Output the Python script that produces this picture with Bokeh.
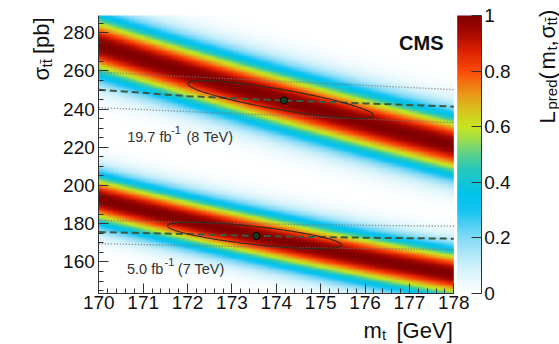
import numpy as np
from bokeh.plotting import figure
from bokeh.models import (Range1d, LinearColorMapper, FixedTicker, LinearAxis,
                          SingleIntervalTicker, Label)
from bokeh.embed import file_html
from bokeh.resources import INLINE

# ---------------- data ----------------
mt_grid = [170, 172, 174, 176, 178]

# predicted likelihood bands (ridge position and gaussian width, pb)
pred8_center = [273.5, 259.2, 245.7, 233.0, 221.0]
pred8_width = 11.0
pred7_center = [192.8, 181.6, 171.4, 162.0, 153.5]
pred7_width = 9.0

# measured cross sections (dashed) with +-1 sigma (dotted)
meas8 = [250.2, 246.8, 244.7, 243.0, 241.3]
meas8_hi = [259.4, 257.0, 254.7, 252.4, 250.2]
meas8_lo = [240.8, 238.7, 236.8, 234.8, 232.9]
meas7 = [175.7, 174.6, 173.4, 172.7, 172.2]
meas7_hi = [181.8, 180.8, 179.8, 179.2, 178.7]
meas7_lo = [169.6, 168.6, 167.7, 167.0, 166.5]

# best-fit points
best_mt = [174.17, 173.55]
best_xs = [244.6, 173.6]

# 1-sigma contours: centre, half extent in mt, sigma offset at the right tip, half extent in sigma
ell8 = dict(mt=174.1, xs=245.0, a=2.09, b=-8.3, h=9.9)
ell7 = dict(mt=173.51, xs=173.9, a=1.96, b=-5.0, h=6.9)

x_ticks_interval = 1
y_ticks_interval = 20
cb_ticks = [0, 0.2, 0.4, 0.6, 0.8, 1]
cb_labels = ["0", "0.2", "0.4", "0.6", "0.8", "1"]

X0, X1 = 170.0, 178.0
Y0, Y1 = 143.5, 289.0

# ---------------- layout (pixels inside the canvas) ----------------
W, H = 559, 344
FX0, FX1 = 98.3, 453.3     # data frame left / right
FY0, FY1 = 15.0, 293.0     # data frame top / bottom
BX0, BX1 = 456.7, 480.7    # colour bar left / right
kx = (FX1 - FX0) / (X1 - X0)
ky = (FY1 - FY0) / (Y1 - Y0)
xr = Range1d(X0 - FX0 / kx, X1 + (W - FX1) / kx)
yr = Range1d(Y0 - (H - FY1) / ky, Y1 + FY0 / ky)
kc = (FY1 - FY0)
cbr = Range1d(0 - (H - FY1) / kc, 1 + FY0 / kc)
bar_x0 = X0 + (BX0 - FX0) / kx
bar_x1 = X0 + (BX1 - FX0) / kx

# ---------------- colour map ----------------
stops = [
    (0.00, (255, 255, 255)),
    (0.10, (205, 240, 250)),
    (0.20, (130, 218, 245)),
    (0.30, (20, 195, 242)),
    (0.36, (0, 195, 235)),
    (0.45, (40, 200, 185)),
    (0.50, (90, 208, 140)),
    (0.55, (150, 220, 80)),
    (0.60, (200, 230, 30)),
    (0.66, (215, 195, 30)),
    (0.72, (235, 150, 25)),
    (0.80, (252, 75, 8)),
    (0.88, (215, 30, 0)),
    (0.94, (165, 8, 0)),
    (1.00, (128, 0, 0)),
]
sv = np.array([s[0] for s in stops])
sc = np.array([s[1] for s in stops], dtype=float)
lv = np.linspace(0, 1, 256)
palette = ["#%02x%02x%02x" % tuple(int(round(np.interp(v, sv, sc[:, k]))) for k in range(3)) for v in lv]
mapper = LinearColorMapper(palette=palette, low=0, high=1)

# ---------------- likelihood image ----------------
nx, ny = 420, 330
gx = np.linspace(X0, X1, nx)
gy = np.linspace(Y0, Y1, ny)
GX, GY = np.meshgrid(gx, gy)
c8 = np.polyval(np.polyfit(mt_grid, pred8_center, 2), GX)
c7 = np.polyval(np.polyfit(mt_grid, pred7_center, 2), GX)
L = np.maximum(np.exp(-0.5 * ((GY - c8) / pred8_width) ** 2),
               np.exp(-0.5 * ((GY - c7) / pred7_width) ** 2))

p = figure(width=W, height=H, output_backend="svg", toolbar_location=None,
           x_range=xr, y_range=yr, x_axis_type=None, y_axis_type=None,
           min_border=0, min_border_left=0, min_border_right=0,
           min_border_top=0, min_border_bottom=0)
p.extra_y_ranges = {"cb": cbr}
p.outline_line_color = None
p.grid.visible = False
p.background_fill_color = "white"
p.border_fill_color = "white"

p.image(image=[L], x=X0, y=Y0, dw=X1 - X0, dh=Y1 - Y0, color_mapper=mapper)

# colour bar gradient
grad = np.linspace(0, 1, 256).reshape(256, 1)
p.image(image=[grad], x=bar_x0, y=0, dw=bar_x1 - bar_x0, dh=1, color_mapper=mapper,
        y_range_name="cb")

# measurement lines
for hi, mid, lo in [(meas8_hi, meas8, meas8_lo), (meas7_hi, meas7, meas7_lo)]:
    p.line(mt_grid, hi, line_color="#777777", line_width=1.3, line_dash="1 2")
    p.line(mt_grid, lo, line_color="#777777", line_width=1.3, line_dash="1 2")
    p.line(mt_grid, mid, line_color="#3b5a45", line_width=2.0, line_dash="7 4")

# contours
t = np.linspace(0, 2 * np.pi, 240)
for e in (ell8, ell7):
    c = np.sqrt(e["h"] ** 2 - e["b"] ** 2)
    p.line(e["mt"] + e["a"] * np.cos(t), e["xs"] + e["b"] * np.cos(t) + c * np.sin(t),
           line_color="#3a2a20", line_width=1.2)

p.scatter(best_mt, best_xs, size=7, fill_color="#1d3b22", line_color="black", line_width=1)

# ---------------- axes ----------------
FONT = "Liberation Sans"


def style(ax, minor_in=5):
    ax.axis_line_color = "#333333"
    ax.major_tick_line_color = "#333333"
    ax.minor_tick_line_color = "#333333"
    ax.major_tick_in = 10
    ax.major_tick_out = 0
    ax.minor_tick_in = minor_in
    ax.minor_tick_out = 0
    ax.major_label_text_font = FONT
    ax.major_label_text_font_size = "19px"
    ax.major_label_text_color = "#111111"


xax = LinearAxis(fixed_location=Y0, bounds=(X0, X1),
                 ticker=SingleIntervalTicker(interval=x_ticks_interval, num_minor_ticks=5))
style(xax)
xax.major_label_standoff = 2
p.add_layout(xax, "below")

yax = LinearAxis(fixed_location=X0, bounds=(Y0, Y1),
                 ticker=SingleIntervalTicker(interval=y_ticks_interval, num_minor_ticks=4))
style(yax)
yax.major_label_standoff = 4
p.add_layout(yax, "left")

cax = LinearAxis(y_range_name="cb", fixed_location=bar_x1, bounds=(0, 1),
                 ticker=FixedTicker(ticks=cb_ticks),
                 major_label_overrides={k: v for k, v in zip(cb_ticks, cb_labels)})
style(cax, minor_in=0)
cax.minor_tick_line_color = None
cax.major_label_standoff = 3
p.add_layout(cax, "right")

# ---------------- texts (page pixel positions) ----------------
def lab(text, sx, sy, size, angle=0, bold=False, color="#111111", align="left"):
    p.add_layout(Label(x=sx, y=H - sy, x_units="screen", y_units="screen",
                       text=text, angle=angle, angle_units="deg",
                       text_font=FONT, text_font_size="%gpx" % size,
                       text_font_style="bold" if bold else "normal",
                       text_color=color, text_align=align, text_baseline="alphabetic"))


lab("CMS", 443, 42, 20, bold=True, align="right")

lab("19.7 fb", 126.7, 136, 14.5, color="#333333")
lab("-1", 170.5, 129.5, 11, color="#333333")
lab("(8 TeV)", 186, 136, 14.5, color="#333333")
lab("5.0 fb", 126.5, 268.3, 14.5, color="#333333")
lab("-1", 164, 261.5, 11, color="#333333")
lab("(7 TeV)", 177.3, 268.3, 14.5, color="#333333")

# x title
lab("m", 363, 330, 22)
lab("t", 381.5, 333.5, 15)
lab("[GeV]", 396, 330, 22)

# y title (rotated)
lab("\u03c3", 40.5, 80, 22, angle=90)
lab("tt\u0304", 45.5, 67, 15, angle=90)
lab("[pb]", 40.5, 53.5, 22, angle=90)

# colour bar title (rotated)
lab("L", 547, 123, 22, angle=90)
lab("pred", 551, 109, 15, angle=90)
lab("(", 547, 79, 22, angle=90)
lab("m", 547, 69, 22, angle=90)
lab("t", 551, 50, 15, angle=90)
lab(",", 547, 46, 22, angle=90)
lab("\u03c3", 547, 38, 22, angle=90)
lab("tt\u0304", 551, 25, 15, angle=90)
lab(")", 547, 16.5, 22, angle=90)

open("out.html", "w").write(file_html(p, INLINE))
